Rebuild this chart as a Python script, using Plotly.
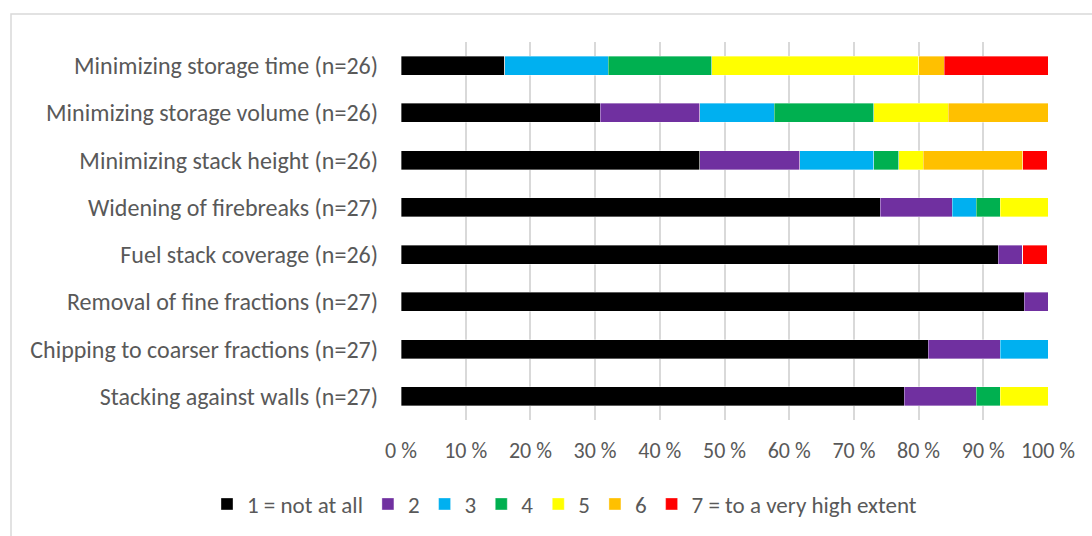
import plotly.graph_objects as go

categories = [
    "Minimizing storage time (n=26)",
    "Minimizing storage volume (n=26)",
    "Minimizing stack height (n=26)",
    "Widening of firebreaks (n=27)",
    "Fuel stack coverage (n=26)",
    "Removal of fine fractions (n=27)",
    "Chipping to coarser fractions (n=27)",
    "Stacking against walls (n=27)",
]

series_names = ["1 = not at all", "2", "3", "4", "5", "6", "7 = to a very high extent"]
colors = ["#000000", "#7030A0", "#00B0F0", "#00B050", "#FFFF00", "#FFC000", "#FF0000"]

# percentages per category (rows follow categories order)
s1 = [16.0, 30.8, 46.2, 74.1, 92.3, 96.3, 81.5, 77.8]
s2 = [0.0, 15.4, 15.4, 11.1, 3.8, 3.7, 11.1, 11.1]
s3 = [16.0, 11.5, 11.5, 3.7, 0.0, 0.0, 7.4, 0.0]
s4 = [16.0, 15.4, 3.8, 3.7, 0.0, 0.0, 0.0, 3.7]
s5 = [32.0, 11.5, 3.8, 7.4, 0.0, 0.0, 0.0, 7.4]
s6 = [4.0, 15.4, 15.4, 0.0, 0.0, 0.0, 0.0, 0.0]
s7 = [16.0, 0.0, 3.8, 0.0, 3.8, 0.0, 0.0, 0.0]
series_values = [s1, s2, s3, s4, s5, s6, s7]

tick_vals = [0, 10, 20, 30, 40, 50, 60, 70, 80, 90, 100]
tick_text = ["0 %", "10 %", "20 %", "30 %", "40 %", "50 %", "60 %", "70 %", "80 %", "90 %", "100 %"]

FONT = "Carlito, Calibri, Lato, sans-serif"
TXT = "#595959"

fig = go.Figure()
for name, vals, col in zip(series_names, series_values, colors):
    fig.add_trace(go.Bar(
        y=categories, x=vals, name=name, orientation="h",
        marker=dict(color=col, line=dict(color="rgba(255,255,255,0.6)", width=0.6)),
    ))

L, R, T, B = 401, 44, 42, 116
W, H = 1092, 536
pw, ph = W - L - R, H - T - B

fig.update_layout(
    width=W, height=H,
    barmode="stack", bargap=0.6,
    plot_bgcolor="white", paper_bgcolor="white",
    margin=dict(l=L, r=R, t=T, b=B, autoexpand=False),
    font=dict(family=FONT, color=TXT, size=20),
    legend=dict(orientation="h", xref="paper", yref="paper",
                x=(207 - L) / pw, xanchor="left", y=(T + ph - 504) / ph, yanchor="middle",
                bgcolor="rgba(0,0,0,0)",
                font=dict(size=23, color=TXT, family=FONT), traceorder="normal",
                itemwidth=30),
    xaxis=dict(range=[0, 100], tickvals=tick_vals, ticktext=tick_text,
               showgrid=True, gridcolor="#D9D9D9", gridwidth=1.5, zeroline=False,
               showline=False, ticks="", tickfont=dict(size=22, color=TXT, family=FONT),
               ticklabelstandoff=15, fixedrange=True),
    yaxis=dict(autorange="reversed", showgrid=False, showline=False, ticks="",
               tickfont=dict(size=24, color=TXT, family=FONT), ticklabelstandoff=22),
    shapes=[dict(type="rect", xref="paper", yref="paper",
                 x0=(11 - L) / pw, x1=(1110 - L) / pw,
                 y0=(T + ph - 560) / ph, y1=1 + (T - 14) / ph,
                 line=dict(color="#D9D9D9", width=1.5), layer="below")],
)

fig.write_html("out.html")
